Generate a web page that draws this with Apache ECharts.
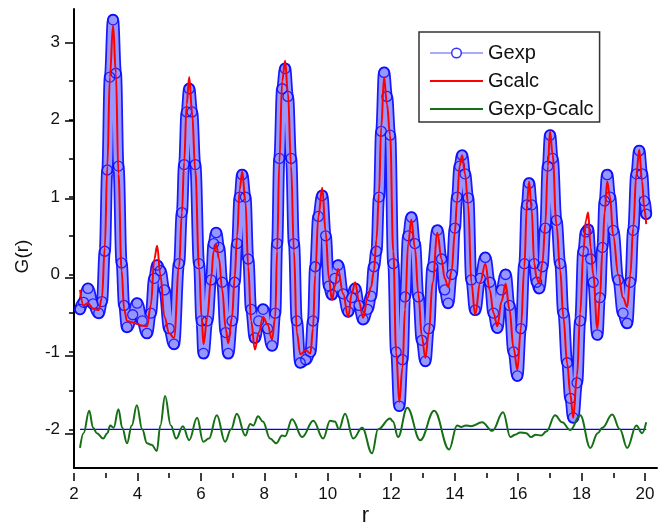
<!DOCTYPE html>
<html>
<head>
<meta charset="utf-8">
<script src="https://cdn.jsdelivr.net/npm/echarts/dist/echarts.min.js"></script>
<style>
  html, body { margin: 0; padding: 0; background: #fff; }
  #chart { width: 666px; height: 532px; }
</style>
</head>
<body>
<div id="chart"></div>
<script>
// r grid shared by Gexp and Gcalc (at peaks, troughs and slopes)
const rPts = [
  2.19, 2.30, 2.44, 2.60, 2.78, 2.88, 2.97, 3.05, 3.13, 3.23, 3.32, 3.40, 3.50, 3.58, 3.67,
  3.85, 3.99, 4.15, 4.30, 4.42, 4.53, 4.62, 4.72, 4.85, 5.00, 5.15,
  5.31, 5.40, 5.47, 5.55, 5.63, 5.72, 5.82, 5.94, 6.02, 6.08,
  6.20, 6.32, 6.40, 6.48, 6.57, 6.67, 6.78, 6.86,
  6.98, 7.06, 7.14, 7.22, 7.30, 7.40, 7.49, 7.58, 7.70,
  7.82, 7.96, 8.10, 8.24,
  8.34, 8.40, 8.47, 8.56, 8.65, 8.74, 8.84, 8.93, 9.02, 9.13,
  9.30, 9.45, 9.53, 9.60, 9.70, 9.82,
  9.93, 10.03, 10.13, 10.22, 10.32, 10.48, 10.64, 10.75, 10.86, 10.98, 11.11,
  11.25, 11.36, 11.45, 11.53, 11.61, 11.68, 11.77, 11.86, 11.96, 12.06, 12.15, 12.25,
  12.35, 12.43, 12.53, 12.63, 12.74, 12.85, 12.96, 13.07,
  13.18, 13.30, 13.45, 13.58, 13.68, 13.79,
  13.90, 14.00, 14.07, 14.15, 14.23, 14.32, 14.42, 14.52, 14.64,
  14.80, 14.96, 15.10, 15.22, 15.34,
  15.47, 15.60, 15.72, 15.85, 15.97,
  16.08, 16.19, 16.27, 16.34, 16.42, 16.50, 16.58, 16.66,
  16.76, 16.85, 16.93, 17.00, 17.08, 17.20, 17.32, 17.42, 17.54, 17.64, 17.73,
  17.85, 17.95, 18.05, 18.13, 18.20, 18.28, 18.36, 18.49,
  18.57, 18.65, 18.72, 18.80, 18.89, 18.99, 19.15, 19.30, 19.43,
  19.53, 19.62, 19.72, 19.81, 19.90, 19.97, 20.03
];

const gExp = [
  -0.45, -0.36, -0.18, -0.38, -0.50, -0.35, 0.30, 1.35, 2.55, 3.29, 2.60, 1.40, 0.15, -0.40, -0.68,
  -0.52, -0.37, -0.60, -0.76, -0.50, -0.05, 0.12, 0.05, -0.20, -0.70, -0.90,
  0.14, 0.80, 1.42, 2.10, 2.40, 2.10, 1.42, 0.14, -0.60, -1.02,
  -0.60, -0.07, 0.40, 0.54, 0.35, -0.10, -0.75, -1.02,
  -0.60, -0.10, 0.40, 1.00, 1.29, 1.00, 0.20, -0.45, -0.82,
  -0.60, -0.45, -0.70, -0.92,
  -0.50, 0.40, 1.50, 2.40, 2.66, 2.30, 1.50, 0.40, -0.60, -1.14,
  -1.10, -1.00, -0.60, 0.10, 0.75, 1.02,
  0.50, -0.15, -0.26, -0.05, 0.12, -0.25, -0.48, -0.30, -0.18, -0.40, -0.58,
  -0.45, -0.28, 0.10, 0.30, 1.00, 1.85, 2.61, 2.30, 1.80, 0.14, -1.00, -1.70,
  -1.10, -0.29, 0.50, 0.74, 0.40, -0.29, -0.85, -1.12,
  -0.70, 0.10, 0.57, 0.20, -0.20, -0.37,
  0.00, 0.60, 1.00, 1.40, 1.54, 1.30, 0.99, -0.07, -0.46,
  -0.05, 0.22, -0.10, -0.50, -0.69,
  -0.20, 0.00, -0.40, -1.00, -1.31,
  -0.70, 0.14, 0.90, 1.18, 0.90, 0.14, -0.10, -0.18,
  0.10, 0.60, 1.40, 1.80, 1.50, 0.70, 0.14, -0.50, -1.14, -1.60, -1.85,
  -1.40, -0.60, 0.30, 0.55, 0.58, 0.20, -0.10, -0.78,
  -0.30, 0.35, 0.95, 1.29, 1.00, 0.57, -0.07, -0.50, -0.63,
  -0.10, 0.57, 1.30, 1.60, 1.30, 0.95, 0.78
];

const gCalc = [
  -0.20, -0.40, -0.37, -0.44, -0.46, -0.30, 0.35, 1.40, 2.55, 3.22, 2.60, 1.30, 0.05, -0.45, -0.60,
  -0.62, -0.64, -0.66, -0.67, -0.40, 0.20, 0.37, 0.00, -0.55, -0.76, -0.82,
  0.10, 0.80, 1.45, 2.20, 2.55, 2.10, 1.35, 0.10, -0.55, -0.90,
  -0.55, -0.05, 0.30, 0.39, 0.20, -0.20, -0.70, -0.89,
  -0.55, -0.05, 0.50, 1.10, 1.33, 0.95, 0.10, -0.60, -0.97,
  -0.75, -0.55, -0.65, -0.84,
  -0.55, 0.30, 1.45, 2.50, 2.76, 2.35, 1.40, 0.30, -0.75, -1.03,
  -0.98, -1.02, -0.70, 0.00, 0.75, 1.12,
  0.55, -0.05, -0.33, -0.15, 0.07, -0.25, -0.55, -0.25, -0.10, -0.35, -0.56,
  -0.30, -0.16, 0.05, 0.45, 1.05, 1.90, 2.55, 2.20, 1.80, 0.30, -1.00, -1.65,
  -1.20, -0.45, 0.40, 0.71, 0.35, -0.25, -0.80, -1.08,
  -0.75, -0.10, 0.54, 0.20, -0.05, -0.16,
  0.05, 0.55, 0.95, 1.40, 1.54, 1.30, 0.90, -0.10, -0.52,
  -0.10, 0.14, -0.20, -0.50, -0.67,
  -0.35, -0.12, -0.45, -0.95, -1.23,
  -0.70, 0.10, 0.90, 1.20, 0.85, 0.15, -0.05, -0.12,
  0.15, 0.65, 1.40, 1.85, 1.55, 0.65, 0.05, -0.55, -1.15, -1.55, -1.85,
  -1.30, -0.50, 0.30, 0.70, 0.80, 0.35, 0.00, -0.70,
  -0.30, 0.30, 0.80, 1.20, 1.00, 0.50, 0.00, -0.30, -0.42,
  0.00, 0.60, 1.30, 1.61, 1.20, 0.85, 0.65
];

// difference curve, drawn shifted down by diffOffset
const diffOffset = -2;
const rDiff = [
  2.19, 2.30, 2.48, 2.60, 2.72, 2.92, 3.05, 3.14, 3.25, 3.40, 3.52, 3.67, 3.82, 3.98,
  4.15, 4.30, 4.45, 4.61, 4.72, 4.87, 5.05, 5.22, 5.43, 5.63, 5.88, 6.07, 6.25, 6.50,
  6.76, 6.95, 7.13, 7.40, 7.55, 7.65, 7.80, 7.95, 8.18, 8.37, 8.56, 8.65, 8.87, 9.19,
  9.54, 9.85, 10.07, 10.22, 10.35, 10.54, 10.80, 11.08, 11.39, 11.58, 11.96, 12.05,
  12.21, 12.50, 12.91, 13.35, 13.82, 14.07, 14.20, 14.35, 14.50, 14.86, 15.18, 15.52,
  15.75, 15.90, 16.06, 16.25, 16.40, 16.55, 16.72, 16.88, 17.16, 17.38, 17.64, 17.95,
  18.27, 18.50, 18.65, 18.96, 19.20, 19.43, 19.72, 19.90, 20.03
];
const gDiff = [
  -0.24, -0.05, 0.24, 0.02, -0.05, -0.12, -0.05, 0.05, 0.02, 0.26, 0.02, -0.18, 0.05, 0.31,
  0.00, -0.18, -0.20, -0.28, 0.05, 0.43, 0.05, -0.12, 0.04, -0.14, 0.15, -0.16, -0.12, 0.18,
  -0.16, 0.00, 0.20, -0.08, 0.07, 0.05, 0.17, 0.10, -0.12, -0.18, -0.08, -0.09, 0.13, -0.10,
  0.11, -0.12, 0.11, 0.10, 0.00, 0.20, -0.12, 0.02, -0.31, 0.00, 0.14, 0.10,
  -0.10, 0.28, -0.14, 0.24, -0.26, 0.05, 0.03, 0.05, 0.04, 0.09, -0.02, 0.22,
  -0.10, -0.07, -0.04, -0.05, -0.10, -0.07, -0.08, -0.03, 0.18, 0.09, -0.01, 0.18,
  -0.24, -0.05, 0.02, 0.19, 0.00, -0.24, 0.05, -0.05, 0.09
];

// blue reference line under the difference curve
const baseR = [2.19, 20.03];

const FONT = '"Liberation Sans", Arial, sans-serif';

const expData = rPts.map((r, i) => [r, gExp[i]]);
const calcData = rPts.map((r, i) => [r, gCalc[i]]);
const diffData = rDiff.map((r, i) => [r, gDiff[i] + diffOffset]);
const baseData = baseR.map(r => [r, diffOffset]);

const tickStyle = { color: '#000', width: 1.5 };
const labelStyle = { fontSize: 17, color: '#111', fontFamily: FONT };
const hiddenAxis = { show: false, type: 'value' };
const ghostLine = { show: true, lineStyle: { color: '#000', opacity: 0 } };

const chart = echarts.init(document.getElementById('chart'));

chart.setOption({
  animation: false,
  backgroundColor: '#fff',
  textStyle: { fontFamily: FONT },
  grid: [
    // data area: x 2..20.37, y -2.5..3.43
    { left: 74, right: 9, top: 9, bottom: 59 },
    // long y ticks: y -2.5..3.5, integers fall on minor ticks
    { left: 74, right: 9, top: 3.5, bottom: 59 },
    // x ticks and labels: x 2..20
    { left: 74, right: 21, top: 9, bottom: 59 }
  ],
  legend: {
    orient: 'vertical',
    left: 419,
    top: 32,
    padding: [11, 6, 3, 10],
    itemWidth: 53,
    itemHeight: 12,
    itemGap: 8,
    borderColor: '#333',
    borderWidth: 1.5,
    backgroundColor: '#fff',
    textStyle: { fontSize: 20, lineHeight: 20, color: '#111', fontFamily: FONT },
    data: [
      { name: 'Gexp', itemStyle: { color: '#fff', borderColor: '#3333ff', borderWidth: 1.5 },
        lineStyle: { color: '#8c8cff', width: 1.5, opacity: 1 } },
      { name: 'Gcalc', itemStyle: { opacity: 0 }, lineStyle: { color: '#ff0000', width: 2 } },
      { name: 'Gexp-Gcalc', itemStyle: { opacity: 0 }, lineStyle: { color: '#157015', width: 2 } }
    ]
  },
  xAxis: [
    {
      type: 'value', gridIndex: 0, min: 2, max: 20.37,
      name: 'r', nameLocation: 'middle', nameGap: 37,
      nameTextStyle: { fontSize: 22, color: '#111', fontFamily: FONT },
      axisLine: { show: true, onZero: false, lineStyle: { color: '#000', width: 2 } },
      axisTick: { show: false }, axisLabel: { show: false }, splitLine: { show: false }
    },
    Object.assign({ gridIndex: 1, min: 2, max: 20.37 }, hiddenAxis),
    {
      // sits on y = 0 of its own grid, which is the bottom edge
      type: 'value', gridIndex: 2, min: 2, max: 20, interval: 2,
      axisLine: ghostLine,
      axisTick: { show: true, length: 8, lineStyle: tickStyle },
      minorTick: { show: true, splitNumber: 2, length: 5, lineStyle: tickStyle },
      axisLabel: Object.assign({ margin: 13 }, labelStyle),
      splitLine: { show: false }
    }
  ],
  yAxis: [
    {
      type: 'value', gridIndex: 0, min: -2.5, max: 3.43, interval: 0.5,
      name: 'G(r)', nameLocation: 'middle', nameGap: 42, nameRotate: 90,
      nameTextStyle: { fontSize: 19, color: '#111', fontFamily: FONT, padding: [0, 36, 0, 0] },
      axisLine: { show: true, onZero: false, lineStyle: { color: '#000', width: 2 } },
      axisTick: { show: true, length: 5, lineStyle: tickStyle },
      axisLabel: Object.assign({
        margin: 14, showMinLabel: false, showMaxLabel: false,
        formatter: v => (Number.isInteger(v) ? String(v) : '')
      }, labelStyle),
      splitLine: { show: false }
    },
    {
      type: 'value', gridIndex: 1, min: -2.5, max: 3.5, interval: 1, position: 'left',
      axisLine: { show: true, onZero: false, lineStyle: { color: '#000', opacity: 0 } },
      axisTick: { show: false },
      minorTick: { show: true, splitNumber: 2, length: 9, lineStyle: tickStyle },
      axisLabel: { show: false },
      splitLine: { show: false }
    },
    Object.assign({ gridIndex: 2, min: 0, max: 1 }, hiddenAxis)
  ],
  series: [
    {
      name: 'band', type: 'line', data: expData, smooth: 0.4, smoothMonotone: 'x',
      symbol: 'none', silent: true, z: 1,
      lineStyle: { color: 'rgba(0,0,255,0.9)', width: 12, cap: 'round', join: 'round' }
    },
    {
      name: 'bandInner', type: 'line', data: expData, smooth: 0.4, smoothMonotone: 'x',
      symbol: 'none', silent: true, z: 1,
      lineStyle: { color: 'rgba(255,255,255,0.55)', width: 8.5, cap: 'round', join: 'round' }
    },
    {
      name: 'Gexp', type: 'line', data: expData, z: 2,
      symbol: 'circle', symbolSize: 10, showSymbol: true, showAllSymbol: true,
      itemStyle: { color: 'transparent', borderColor: 'rgba(10,10,255,0.85)', borderWidth: 1.3 },
      lineStyle: { width: 0, opacity: 0 }
    },
    {
      name: 'Gcalc', type: 'line', data: calcData, smooth: 0.4, smoothMonotone: 'x',
      symbol: 'none', z: 3,
      lineStyle: { color: '#ff0000', width: 2 }
    },
    {
      name: 'base', type: 'line', data: baseData, symbol: 'none', silent: true, z: 3,
      lineStyle: { color: '#0000ff', width: 1.3 }
    },
    {
      name: 'Gexp-Gcalc', type: 'line', data: diffData, smooth: 0.4, smoothMonotone: 'x',
      symbol: 'none', z: 4,
      lineStyle: { color: '#157015', width: 2 }
    }
  ]
});
</script>
</body>
</html>
